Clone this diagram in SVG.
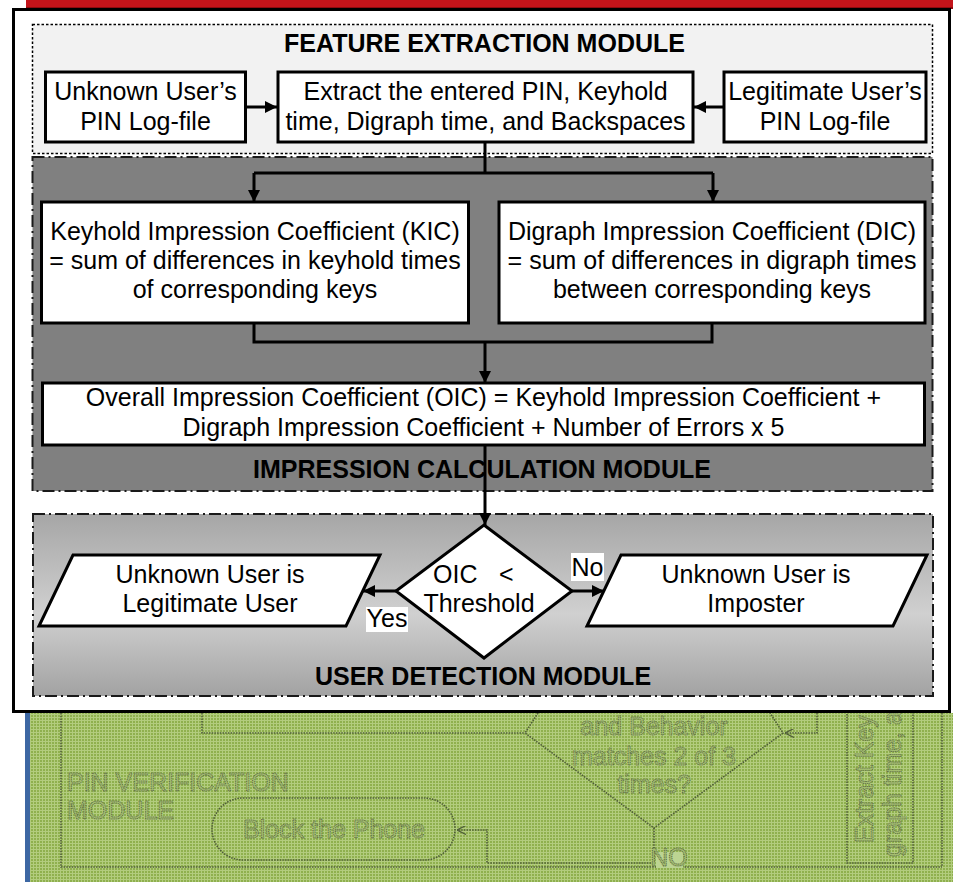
<svg xmlns="http://www.w3.org/2000/svg" width="953" height="882" viewBox="0 0 953 882">
<defs>
<style>
.t{font-family:"Liberation Sans",Arial,sans-serif;font-size:25px;fill:#000;text-anchor:middle}
.s{text-anchor:start}
.b{font-weight:bold}
.box{fill:#fff;stroke:#000;stroke-width:3}
.con{fill:none;stroke:#000;stroke-width:3}
.fl{fill:none;stroke:#4f5d38;stroke-width:1.6;stroke-dasharray:1.5 1.2}
.ft{font-family:"Liberation Sans",Arial,sans-serif;font-size:25px;fill:#a3bd70;stroke:#55633d;stroke-width:0.9;stroke-dasharray:1 0.8}
</style>
<marker id="ah" viewBox="0 0 12 12" refX="12" refY="6" markerWidth="12" markerHeight="12" markerUnits="userSpaceOnUse" orient="auto">
<path d="M0,0 L12,6 L0,12 z" fill="#000"/>
</marker>
<marker id="fah" viewBox="0 0 10 10" refX="10" refY="5" markerWidth="10" markerHeight="9" markerUnits="userSpaceOnUse" orient="auto">
<path d="M0,0 L10,5 L0,10" fill="none" stroke="#4f5d38" stroke-width="1.5"/>
</marker>
<pattern id="grn" width="3" height="3" patternUnits="userSpaceOnUse">
<rect width="3" height="3" fill="#b2cc7e"/>
<rect x="1" y="1" width="2" height="2" fill="#8fb04e"/>
</pattern>
<linearGradient id="ud" x1="0" y1="0" x2="0" y2="1">
<stop offset="0" stop-color="#a6a6a6"/>
<stop offset="0.55" stop-color="#d0d0d0"/>
<stop offset="1" stop-color="#a2a2a2"/>
</linearGradient>
</defs>

<!-- background remnants -->
<rect x="0" y="0" width="953" height="882" fill="#fff"/>
<rect x="26" y="0" width="927" height="9" fill="#c3141a"/>
<rect x="26" y="7" width="927" height="2" fill="#8e0b0f"/>
<rect x="30" y="713" width="923" height="169" fill="url(#grn)"/>
<rect x="25" y="713" width="5" height="169" fill="#3d67a3"/>

<g id="faded">
<path class="fl" d="M61,713 V867 H942 M942,713 V867"/>
<rect class="fl" x="847" y="705" width="66" height="158"/>
<path class="fl" d="M538,713 L525,733 L654,828 L783,733 L770,713"/>
<path class="fl" d="M202,713 V733 H525"/>
<path class="fl" d="M817,713 V733 H785" marker-end="url(#fah)"/>
<path class="fl" d="M654,828 V863 H487 V830 H457" marker-end="url(#fah)"/>
<rect class="fl" x="212" y="798" width="243" height="62" rx="31"/>
<text class="ft" x="67" y="791" font-size="24">PIN VERIFICATION</text>
<text class="ft" x="67" y="819" font-size="24">MODULE</text>
<text class="ft" x="334" y="838" text-anchor="middle">Block the Phone</text>
<text class="ft" x="654" y="735" text-anchor="middle">and Behavior</text>
<text class="ft" x="654" y="765" text-anchor="middle">matches 2 of 3</text>
<text class="ft" x="654" y="793" text-anchor="middle">times?</text>
<rect x="656" y="852" width="27" height="16" fill="#bcd492"/>
<text class="ft" x="669" y="866" font-size="16" text-anchor="middle">NO</text>
<text class="ft" font-size="24" transform="translate(873,843) rotate(-90)">Extract Key</text>
<text class="ft" font-size="24" transform="translate(901,857) rotate(-90)">graph time, a</text>
</g>

<!-- main frame -->
<rect x="13.5" y="9.5" width="936" height="702" fill="#fff" stroke="#000" stroke-width="3"/>

<g id="feature-module">
<rect x="32.5" y="24.5" width="900" height="129" fill="#f2f2f2" stroke="#000" stroke-width="1.5" stroke-dasharray="2.5 2"/>
<text class="t b" x="484.5" y="52">FEATURE EXTRACTION MODULE</text>
</g>

<g id="impression-module">
<rect x="32.5" y="157" width="900" height="334" fill="#808080" stroke="#1a1a1a" stroke-width="2" stroke-dasharray="12 4 2 4"/>
<text class="t b" x="482" y="478">IMPRESSION CALCULATION MODULE</text>
</g>

<g id="detection-module">
<rect x="33" y="514" width="900" height="182" fill="url(#ud)" stroke="#1a1a1a" stroke-width="2" stroke-dasharray="12 4 2 4"/>
<text class="t b" x="483" y="685">USER DETECTION MODULE</text>
</g>

<g id="unknown-log">
<rect class="box" x="45.5" y="72" width="200" height="70"/>
<text class="t" x="145.5" y="100">Unknown User’s</text>
<text class="t" x="145.5" y="130">PIN Log-file</text>
</g>

<g id="extract">
<rect class="box" x="278" y="72" width="415" height="70"/>
<text class="t" x="485.5" y="100">Extract the entered PIN, Keyhold</text>
<text class="t" x="485.5" y="130">time, Digraph time, and Backspaces</text>
</g>

<g id="legit-log">
<rect class="box" x="724" y="72" width="202" height="70"/>
<text class="t" x="825" y="100">Legitimate User’s</text>
<text class="t" x="825" y="130">PIN Log-file</text>
</g>

<g id="kic">
<rect class="box" x="41.5" y="202" width="427" height="121"/>
<text class="t" x="255" y="240">Keyhold Impression Coefficient (KIC)</text>
<text class="t" x="255" y="269">= sum of differences in keyhold times</text>
<text class="t" x="255" y="298">of corresponding keys</text>
</g>

<g id="dic">
<rect class="box" x="499" y="202" width="426" height="121"/>
<text class="t" x="712" y="240">Digraph Impression Coefficient (DIC)</text>
<text class="t" x="712" y="269">= sum of differences in digraph times</text>
<text class="t" x="712" y="298">between corresponding keys</text>
</g>

<g id="oic">
<rect class="box" x="42.5" y="383" width="882" height="62"/>
<text class="t" x="483.5" y="406">Overall Impression Coefficient (OIC) = Keyhold Impression Coefficient +</text>
<text class="t" x="483.5" y="436">Digraph Impression Coefficient + Number of Errors x 5</text>
</g>

<g id="decision">
<polygon class="box" points="484,525 572,591 484,658 396,591"/>
<text class="t s" x="433" y="583">OIC<tspan x="499">&lt;</tspan></text>
<text class="t" x="479" y="612">Threshold</text>
</g>

<g id="legit-result">
<polygon class="box" points="73,555 380,555 346,626 39,626"/>
<text class="t" x="210" y="583">Unknown User is</text>
<text class="t" x="210" y="612">Legitimate User</text>
</g>

<g id="imposter-result">
<polygon class="box" points="621,555 927,555 893,626 587,626"/>
<text class="t" x="756" y="583">Unknown User is</text>
<text class="t" x="756" y="612">Imposter</text>
</g>

<g id="connectors">
<path class="con" d="M246,107 H277" marker-end="url(#ah)"/>
<path class="con" d="M724,107 H694" marker-end="url(#ah)"/>
<path class="con" d="M485,142 V173 M254,173 H713"/>
<path class="con" d="M254,173 V202" marker-end="url(#ah)"/>
<path class="con" d="M713,173 V202" marker-end="url(#ah)"/>
<path class="con" d="M254,323 V342 H712 V323"/>
<path class="con" d="M485,342 V383" marker-end="url(#ah)"/>
<path class="con" d="M485,445 V525" marker-end="url(#ah)"/>
<path class="con" d="M396,591 H363" marker-end="url(#ah)"/>
<path class="con" d="M572,591 H604" marker-end="url(#ah)"/>
<rect x="366" y="607" width="42" height="25" fill="#fff"/>
<text class="t" x="387" y="627">Yes</text>
<rect x="571" y="553" width="33" height="28" fill="#fff"/>
<text class="t" x="587.5" y="576">No</text>
</g>
</svg>
